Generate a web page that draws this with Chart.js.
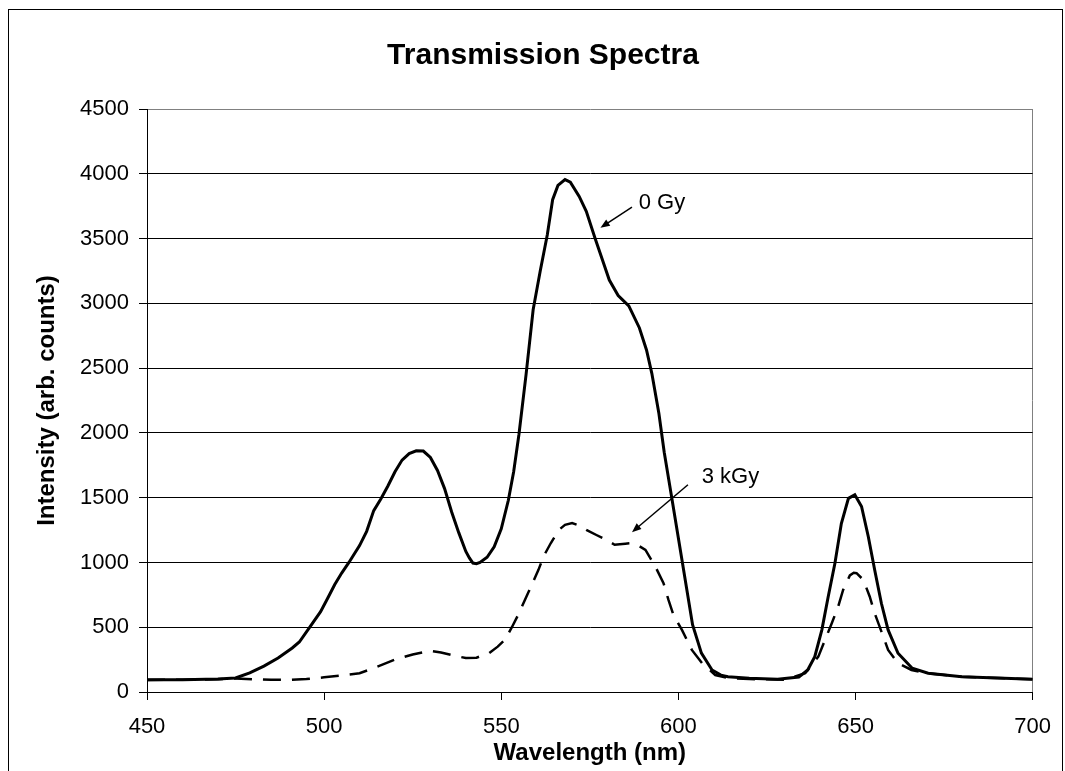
<!DOCTYPE html>
<html>
<head>
<meta charset="utf-8">
<script src="https://cdn.jsdelivr.net/npm/chart.js@4.4.1/dist/chart.umd.min.js"></script>
<style>
html, body { margin: 0; padding: 0; background: #fff; }
#wrap { position: relative; width: 1065px; height: 771px; overflow: hidden; }
#frame { position: absolute; left: 8px; top: 9px; width: 1053px; height: 800px; border: 1px solid #000; pointer-events: none; }
</style>
</head>
<body>
<div id="wrap">
    <canvas id="myChart" width="1065" height="771"></canvas>
    <div id="frame"></div>
</div>
<script>
// wavelength (nm) / intensity pairs
const wl0 = [450, 460, 470, 475, 479, 483, 487, 491, 493, 496,
    499, 501, 503, 505, 507, 510, 512, 514, 516, 518,
    520, 522, 524, 526, 528, 530, 532, 534, 536, 538,
    540, 541, 542, 543, 544, 546, 548, 550, 552, 553.5,
    555, 557, 559, 561, 563, 564.5, 566, 568, 569.5, 572,
    574, 576.5, 578.5, 580.5, 583, 586, 589, 591, 592.5, 594.5,
    596, 598, 601, 604, 606.5, 609.5, 612, 614, 620, 628,
    634, 636.5, 638.5, 640.5, 642.3, 644.2, 646, 648, 649.8, 651.7,
    653.6, 655.4, 657.3, 659.2, 662, 666, 670.5, 680, 690, 700];
const gy0 = [95, 95, 100, 108, 147, 200, 263, 340, 386, 502,
    620, 724, 830, 920, 1000, 1130, 1240, 1400, 1490, 1590,
    1700, 1790, 1840, 1862, 1860, 1810, 1710, 1570, 1390, 1230,
    1085, 1035, 995, 990, 1000, 1040, 1120, 1260, 1480, 1700,
    1990, 2450, 2950, 3250, 3530, 3800, 3910, 3955, 3935, 3825,
    3710, 3500, 3340, 3180, 3060, 2980, 2810, 2640, 2460, 2150,
    1850, 1520, 1020, 520, 300, 170, 130, 118, 106, 98,
    115, 170, 273, 480, 737, 995, 1300, 1495, 1522, 1432,
    1200, 943, 685, 479, 299, 183, 145, 118, 108, 98];

const wl3 = [450, 460, 470, 475, 480, 485, 490, 495, 500, 505,
    510, 515, 520, 525, 530, 533, 536, 540, 543, 546.5,
    549, 551, 553, 555, 557.5, 560.5, 562, 564, 566.3, 568,
    570, 572, 574, 577, 580, 582, 585, 587, 589, 590.7,
    593.5, 595.8, 597.2, 598.6, 601, 603.8, 606.7, 610.4, 614, 620,
    630, 635.8, 639.5, 641.4, 643.3, 645.1, 646.5, 648.4, 649.5, 650.3,
    652.2, 654, 655.4, 656.8, 659.2, 662, 665.8, 670, 680, 690,
    700];
const kgy3 = [93, 95, 98, 105, 98, 95, 93, 100, 113, 128,
    145, 195, 250, 290, 318, 305, 285, 262, 265, 299,
    350, 402, 500, 608, 760, 943, 1050, 1150, 1252, 1290,
    1304, 1285, 1252, 1210, 1170, 1136, 1145, 1149, 1125, 1097,
    968, 840, 711, 595, 479, 325, 222, 131, 108, 100,
    95, 145, 273, 402, 531, 659, 788, 900, 920, 917,
    866, 737, 608, 505, 325, 222, 170, 145, 118, 108,
    98];

// text callouts, placed in data units
const notes = [
    { text: '0 Gy', at: [588.8, 3725], from: [586.9, 3743], to: [578.0, 3584] },
    { text: '3 kGy', at: [606.6, 1617], from: [602.7, 1600], to: [586.9, 1234] }
];

const chartTitle = 'Transmission Spectra';
const FONT = '"Liberation Sans", Arial, sans-serif';

const arrowNotes = {
    id: 'arrowNotes',
    afterDatasetsDraw(chart) {
        const { ctx, scales: { x, y } } = chart;
        ctx.save();
        ctx.fillStyle = '#000';
        ctx.strokeStyle = '#000';
        ctx.lineWidth = 1.5;
        ctx.font = '22px ' + FONT;
        ctx.textBaseline = 'alphabetic';
        notes.forEach(n => {
            ctx.fillText(n.text, x.getPixelForValue(n.at[0]), y.getPixelForValue(n.at[1]));
            const x1 = x.getPixelForValue(n.from[0]), y1 = y.getPixelForValue(n.from[1]);
            const x2 = x.getPixelForValue(n.to[0]), y2 = y.getPixelForValue(n.to[1]);
            const a = Math.atan2(y2 - y1, x2 - x1);
            const head = 10;
            ctx.beginPath();
            ctx.moveTo(x1, y1);
            ctx.lineTo(x2 - head * 0.8 * Math.cos(a), y2 - head * 0.8 * Math.sin(a));
            ctx.stroke();
            ctx.beginPath();
            ctx.moveTo(x2, y2);
            ctx.lineTo(x2 - head * Math.cos(a - 0.38), y2 - head * Math.sin(a - 0.38));
            ctx.lineTo(x2 - head * Math.cos(a + 0.38), y2 - head * Math.sin(a + 0.38));
            ctx.closePath();
            ctx.fill();
        });
        // title sits a bit right of the canvas centre, as in the original
        ctx.font = 'bold 30px ' + FONT;
        ctx.textAlign = 'center';
        ctx.fillText(chartTitle, 543, 64);
        ctx.restore();
    }
};

const config = {
    type: 'line',
    data: {
        datasets: [{
            label: '3 kGy',
            data: wl3.map((w, i) => ({ x: w, y: kgy3[i] })),
            borderColor: '#000',
            borderWidth: 2.5,
            borderDash: [18, 11],
            pointRadius: 0,
            fill: false,
            tension: 0
        }, {
            label: '0 Gy',
            data: wl0.map((w, i) => ({ x: w, y: gy0[i] })),
            borderColor: '#000',
            borderWidth: 3,
            pointRadius: 0,
            fill: false,
            tension: 0
        }]
    },
    options: {
        responsive: false,
        animation: false,
        devicePixelRatio: 1,
        layout: { padding: { left: 0, right: 30, top: 109, bottom: 0 } },
        plugins: {
            legend: { display: false },
            tooltip: { enabled: false },
            title: { display: false }
        },
        scales: {
            x: {
                type: 'linear',
                min: 450,
                max: 700,
                afterFit: s => { s.height = 79; },
                ticks: {
                    stepSize: 50,
                    color: '#000',
                    padding: 14,
                    maxRotation: 0,
                    font: { family: FONT, size: 22 },
                    callback: v => v
                },
                grid: {
                    color: c => (c.tick && c.tick.value === 700) ? '#808080' : 'rgba(0,0,0,0)',
                    tickColor: '#000',
                    tickLength: 8,
                    lineWidth: 1
                },
                border: { color: '#000', width: 1 },
                title: {
                    display: true,
                    text: 'Wavelength (nm)',
                    color: '#000',
                    font: { family: FONT, size: 24, weight: 'bold' },
                    padding: { top: 0, bottom: 3 }
                }
            },
            y: {
                min: 0,
                max: 4500,
                afterFit: s => { s.width = 147; },
                ticks: {
                    stepSize: 500,
                    color: '#000',
                    padding: 10,
                    font: { family: FONT, size: 22 },
                    callback: v => v
                },
                grid: {
                    color: c => (c.tick && c.tick.value === 4500) ? '#808080' : '#000',
                    tickColor: '#000',
                    tickLength: 8,
                    lineWidth: 1
                },
                border: { color: '#000', width: 1 },
                title: {
                    display: true,
                    text: 'Intensity (arb. counts)',
                    color: '#000',
                    font: { family: FONT, size: 24, weight: 'bold' },
                    padding: { top: 33, bottom: 0 }
                }
            }
        }
    },
    plugins: [arrowNotes]
};

const ctx = document.getElementById('myChart').getContext('2d');
new Chart(ctx, config);
</script>
</body>
</html>
